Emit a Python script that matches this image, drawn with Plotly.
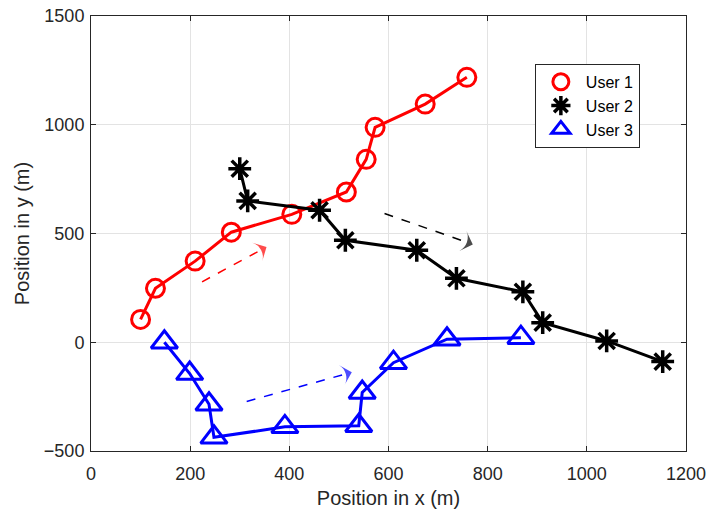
import plotly.graph_objects as go

# ---- data ----
u1_x = [100, 130, 210, 283, 405, 515, 555, 573, 674, 758]
u1_y = [105, 248, 373, 506, 588, 691, 841, 988, 1095, 1218]

u2_x = [300, 316, 461, 513, 657, 737, 871, 911, 1040, 1153]
u2_y = [798, 650, 607, 469, 423, 294, 232, 90, 6, -89]

u3_x = [148, 199, 238, 248, 391, 540, 547, 610, 718, 867]
u3_y = [0, -144, -285, -437, -389, -384, -231, -94, 14, 21]

arrow_red_x = [224, 354]
arrow_red_y = [278, 438]
arrow_blk_x = [592, 770]
arrow_blk_y = [592, 450]
arrow_blu_x = [314, 526]
arrow_blu_y = [-272, -138]

names = ["User 1", "User 2", "User 3"]
colors = ["#ff0000", "#000000", "#0000ff"]

fig = go.Figure()

series = [
    (u1_x, u1_y, "circle-open", 18, 3),
    (u2_x, u2_y, "asterisk-open", 19, 3.5),
    (u3_x, u3_y, "triangle-up-open", 23, 3),
]
for (xs, ys, sym, sz, mlw), name, col in zip(series, names, colors):
    fig.add_trace(go.Scatter(x=xs, y=ys, mode="lines", line=dict(color=col, width=3),
                             showlegend=False, legendgroup=name, hoverinfo="skip"))
    fig.add_trace(go.Scatter(x=xs, y=ys, mode="markers", name=name, legendgroup=name,
                             marker=dict(symbol=sym, size=sz, color=col,
                                         line=dict(color=col, width=mlw))))

for ax_, ay_, col in [(arrow_red_x, arrow_red_y, colors[0]),
                      (arrow_blk_x, arrow_blk_y, colors[1]),
                      (arrow_blu_x, arrow_blu_y, colors[2])]:
    fig.add_trace(go.Scatter(x=ax_, y=ay_, mode="lines+markers", showlegend=False,
                             hoverinfo="skip",
                             line=dict(color=col, width=1.5, dash="dash"),
                             marker=dict(symbol="arrow-wide", size=[0, 15], color=col,
                                         angleref="previous", line=dict(width=0))))

FONT = "Liberation Sans, Arial"
axis_common = dict(
    showgrid=True, gridcolor="#e3e3e3", gridwidth=1,
    showline=True, linecolor="#262626", linewidth=1, mirror="ticks",
    ticks="inside", ticklen=5, tickcolor="#262626",
    tickfont=dict(family=FONT, size=18, color="#262626"),
    zeroline=False, automargin=False, ticklabeloverflow="allow",
)

fig.update_xaxes(range=[0, 1200], tickvals=[0, 200, 400, 600, 800, 1000, 1200],
                 ticklabelstandoff=6,
                 title=dict(text="Position in x (m)", standoff=8,
                            font=dict(family=FONT, size=20, color="#262626")),
                 **axis_common)
fig.update_yaxes(range=[-500, 1500], tickvals=[-500, 0, 500, 1000, 1500],
                 ticklabelstandoff=2,
                 title=dict(text="Position in y (m)", standoff=8,
                            font=dict(family=FONT, size=20, color="#262626")),
                 **axis_common)

fig.update_layout(
    width=707, height=512,
    margin=dict(l=91, r=21, t=16, b=61),
    plot_bgcolor="white", paper_bgcolor="white",
    legend=dict(x=0.746, y=0.89, xanchor="left", yanchor="top",
                bgcolor="white", bordercolor="#262626", borderwidth=1,
                font=dict(family=FONT, size=16, color="#000000"),
                itemwidth=40, tracegroupgap=0),
)

# remove the browser's default 8px body margin so the figure sits at the page origin
fig.write_html("out.html",
               config={"displayModeBar": False},
               post_script="document.body.style.margin='0';document.body.style.overflow='hidden';")
